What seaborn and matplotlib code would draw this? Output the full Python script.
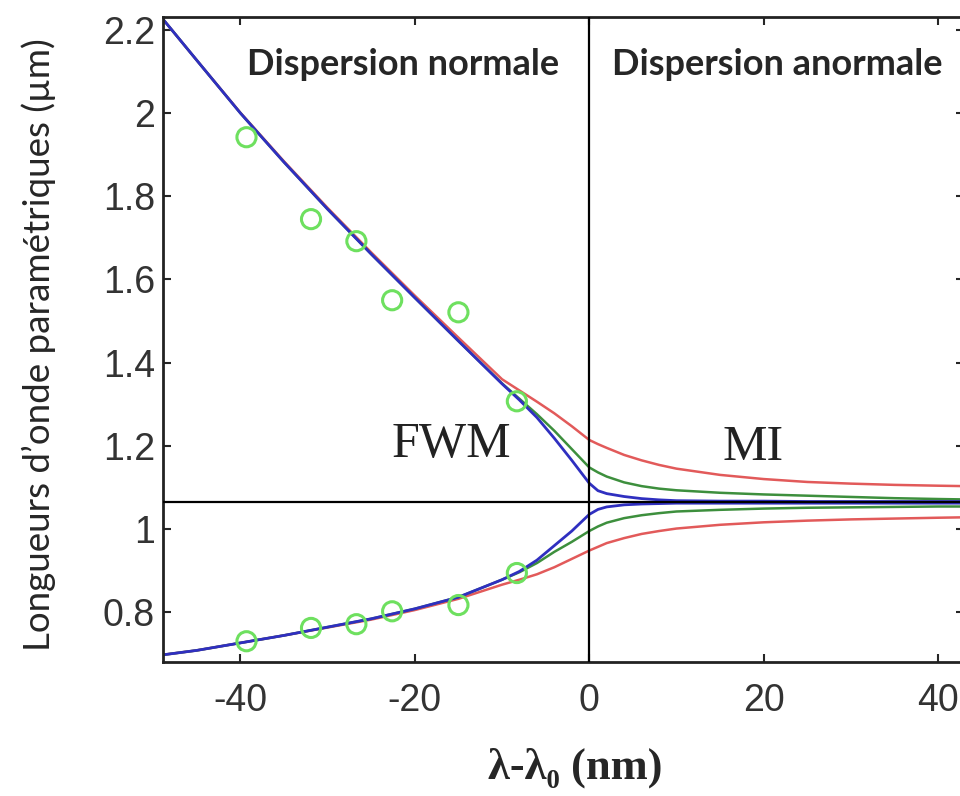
import matplotlib
matplotlib.use("Agg")
import matplotlib.pyplot as plt
import seaborn as sns

# ---- data ----
x_norm = [-49, -45, -40, -35, -30, -25, -20, -15, -10, -8, -6, -4, -2, 0]
x_anom = [1, 2, 4, 6, 8, 10, 15, 20, 25, 30, 35, 40, 43]

blue_up = [2.229, 2.127, 2.000, 1.882, 1.769, 1.661, 1.556, 1.452, 1.349, 1.310, 1.268, 1.218, 1.165, 1.110,
           1.092, 1.085, 1.078, 1.073, 1.070, 1.068, 1.067, 1.067, 1.066, 1.066, 1.066, 1.066, 1.066]
green_up = [2.229, 2.127, 2.000, 1.882, 1.769, 1.661, 1.556, 1.452, 1.350, 1.313, 1.276, 1.236, 1.192, 1.148,
            1.136, 1.126, 1.112, 1.103, 1.097, 1.093, 1.087, 1.083, 1.080, 1.077, 1.074, 1.072, 1.071]
red_up = [2.229, 2.127, 2.001, 1.884, 1.772, 1.665, 1.561, 1.460, 1.360, 1.333, 1.306, 1.278, 1.247, 1.214,
          1.204, 1.195, 1.178, 1.165, 1.154, 1.145, 1.130, 1.120, 1.113, 1.109, 1.106, 1.104, 1.103]

blue_low = [0.697, 0.708, 0.726, 0.744, 0.764, 0.784, 0.808, 0.836, 0.878, 0.898, 0.925, 0.960, 0.995, 1.035,
            1.047, 1.053, 1.058, 1.060, 1.061, 1.062, 1.062, 1.062, 1.062, 1.062, 1.062, 1.062, 1.062]
green_low = [0.697, 0.708, 0.726, 0.744, 0.764, 0.784, 0.808, 0.836, 0.878, 0.896, 0.918, 0.945, 0.969, 0.995,
             1.006, 1.015, 1.026, 1.033, 1.038, 1.042, 1.046, 1.049, 1.051, 1.052, 1.053, 1.054, 1.054]
red_low = [0.697, 0.708, 0.726, 0.744, 0.763, 0.782, 0.805, 0.832, 0.866, 0.878, 0.891, 0.908, 0.928, 0.948,
           0.957, 0.966, 0.978, 0.988, 0.995, 1.001, 1.010, 1.016, 1.020, 1.023, 1.025, 1.027, 1.028]

# mesures (cercles verts)
mes_x = [-39.3, -31.9, -26.7, -22.6, -15.0, -8.3]
mes_up = [1.942, 1.745, 1.692, 1.550, 1.521, 1.307]
mes_low = [0.730, 0.762, 0.771, 0.802, 0.817, 0.894]

lambda_pompe = 1.064

xticks = [-40, -20, 0, 20, 40]
yticks = [0.8, 1.0, 1.2, 1.4, 1.6, 1.8, 2.0, 2.2]
ytick_labels = ['0.8', '1', '1.2', '1.4', '1.6', '1.8', '2', '2.2']

# ---- figure ----
sns.set_style("ticks")
plt.rcParams['axes.unicode_minus'] = False
plt.rcParams['font.family'] = ['Liberation Sans', 'DejaVu Sans']

fig = plt.figure(figsize=(9.6, 7.96), dpi=100)
ax = fig.add_axes([0.170, 0.1683, 0.834, 0.8103])

x_all = x_norm + x_anom
curves = [(red_up, red_low, '#e25a5a', 1.8), (green_up, green_low, '#3d8f3d', 1.8),
          (blue_up, blue_low, '#2f2fc0', 2.0)]
for up, low, col, lw in curves:
    sns.lineplot(x=x_all, y=up, color=col, lw=lw, ax=ax, sort=False, estimator=None)
    sns.lineplot(x=x_all, y=low, color=col, lw=lw, ax=ax, sort=False, estimator=None)

sns.scatterplot(x=mes_x + mes_x, y=mes_up + mes_low, marker='o', s=190,
                facecolor='none', edgecolor='#6ee05f', linewidth=2.2, ax=ax, zorder=5)

ax.axhline(lambda_pompe, color='black', lw=1.6, zorder=6)
ax.axvline(0, color='black', lw=1.6, zorder=6)

ax.set_xlim(-48.85, 42.95)
ax.set_ylim(0.680, 2.231)
ax.set_xticks(xticks)
ax.set_xticklabels([str(t) for t in xticks])
ax.set_yticks(yticks)
ax.set_yticklabels(ytick_labels)
ax.tick_params(direction='in', length=6, width=1.5, top=True, right=True,
               labelsize=27, labelcolor='#333333', pad=6)
ax.tick_params(axis='x', pad=15)
for sp in ax.spines.values():
    sp.set_linewidth(2)
    sp.set_color('#222222')

# textes
ax.text(-21.4, 2.116, 'Dispersion normale', ha='center', va='center',
        fontsize=26, fontweight='bold', family='Lato')
ax.text(21.5, 2.116, 'Dispersion anormale', ha='center', va='center',
        fontsize=26, fontweight='bold', family='Lato')
ax.text(-15.8, 1.202, 'FWM', ha='center', va='center', fontsize=36,
        family='Liberation Serif', color='#222222')
ax.text(18.8, 1.195, 'MI', ha='center', va='center', fontsize=36,
        family='Liberation Serif', color='#222222')

fig.text(0.040, 1 - 345 / 796, "Longueurs d\u2019onde param\u00e9triques (\u00b5m)",
         rotation=90, ha='center', va='center', fontsize=26.5, family=['Lato', 'DejaVu Sans'])
fig.text(575 / 960, 1 - 768 / 796, "\u03bb-\u03bb\u2080 (nm)", ha='center', va='center',
         fontsize=32, fontweight='bold', family=['Liberation Serif', 'DejaVu Serif'])

fig.savefig('out.png', dpi=100)
